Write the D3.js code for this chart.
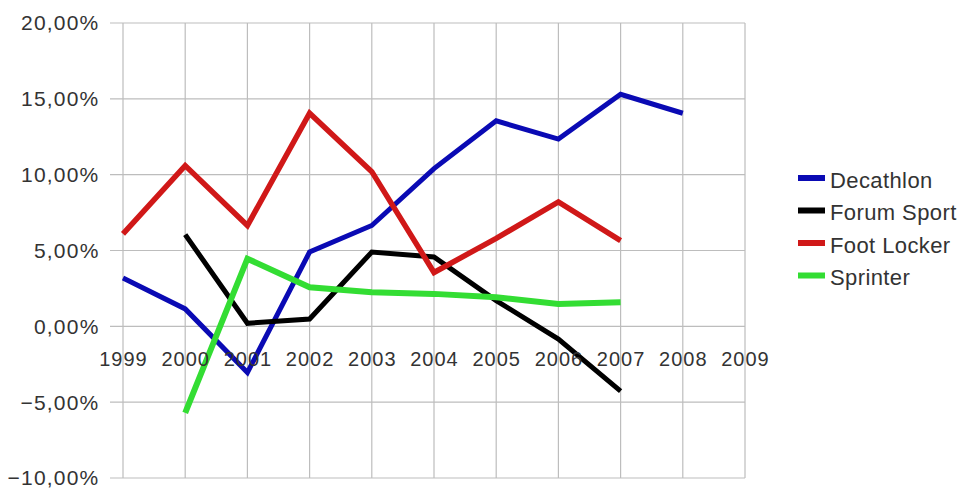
<!DOCTYPE html>
<html><head><meta charset="utf-8">
<script src="https://cdn.jsdelivr.net/npm/d3@7"></script>
<style>body{margin:0;background:#fff}svg{display:block}</style>
</head><body><svg id="c" width="962" height="490"></svg>
<script>
const years = [1999,2000,2001,2002,2003,2004,2005,2006,2007,2008,2009];
const yTicks = [-10,-5,0,5,10,15,20];
const decathlon   = [3.18,1.15,-3.05,4.9,6.65,10.4,13.55,12.35,15.3,14.05,null];
const forumSport  = [null,6.05,0.2,0.48,4.9,4.57,1.7,-0.84,-4.27,null,null];
const footLocker  = [6.1,10.6,6.65,14.05,10.2,3.55,5.8,8.2,5.65,null,null];
const sprinter    = [null,-5.7,4.46,2.58,2.25,2.14,1.92,1.48,1.58,null,null];
const seriesNames = ["Decathlon","Forum Sport","Foot Locker","Sprinter"];
const seriesColors = ["#0a0ab4","#000000","#d01818","#33dd33"];
const seriesWidths = [5,5,5.5,6];
const seriesValues = [decathlon,forumSport,footLocker,sprinter];

const svg = d3.select("#c");
const x = d3.scaleLinear().domain([1999,2009]).range([123,745]);
const y = d3.scaleLinear().domain([-10,20]).range([478,23]);
const font = "'Liberation Sans', Arial, sans-serif";

// horizontal gridlines
svg.append("g").selectAll("line").data(yTicks).join("line")
  .attr("x1",110).attr("x2",x(2009))
  .attr("y1",d=>y(d)).attr("y2",d=>y(d))
  .attr("stroke","#bdbdbd").attr("stroke-width",1.2);
// vertical gridlines
svg.append("g").selectAll("line").data(years).join("line")
  .attr("x1",d=>x(d)).attr("x2",d=>x(d))
  .attr("y1",y(20)).attr("y2",y(-10))
  .attr("stroke","#bdbdbd").attr("stroke-width",1.2);

// y labels
const fmt = v => d3.format(".2f")(v).replace(".",",") + "%";
svg.append("g").selectAll("text").data(yTicks).join("text")
  .attr("x",99.5).attr("y",d=>y(d)).attr("dy","0.35em")
  .attr("text-anchor","end").attr("font-family",font).attr("font-size",21)
  .attr("fill","#333").attr("letter-spacing","1.2px")
  .text(fmt);

// series lines
const line = d3.line().defined(d=>d.v!=null).x(d=>x(d.yr)).y(d=>y(d.v));
seriesValues.forEach((vals,i)=>{
  const pts = years.map((yr,j)=>({yr, v: vals[j]}));
  svg.append("path").datum(pts).attr("d",line)
    .attr("fill","none").attr("stroke",seriesColors[i])
    .attr("stroke-width",seriesWidths[i]).attr("stroke-linejoin","miter");
});

// x labels (drawn over lines)
svg.append("g").selectAll("text").data(years).join("text")
  .attr("x",d=>x(d)+0.5).attr("y",y(0)+33).attr("dy","0.35em")
  .attr("text-anchor","middle").attr("font-family",font).attr("font-size",20)
  .attr("fill","#333").attr("letter-spacing","1px")
  .text(d=>d);

// legend
const lg = svg.append("g").selectAll("g").data(seriesNames).join("g")
  .attr("transform",(d,i)=>`translate(798,${178+i*32.5})`);
lg.append("rect").attr("x",0).attr("y",-3).attr("width",27).attr("height",6)
  .attr("fill",(d,i)=>seriesColors[i]);
lg.append("text").attr("x",32).attr("y",2).attr("dy","0.35em")
  .attr("font-family",font).attr("font-size",22).attr("fill","#333")
  .attr("letter-spacing","0.4px")
  .text(d=>d);
</script></body></html>
